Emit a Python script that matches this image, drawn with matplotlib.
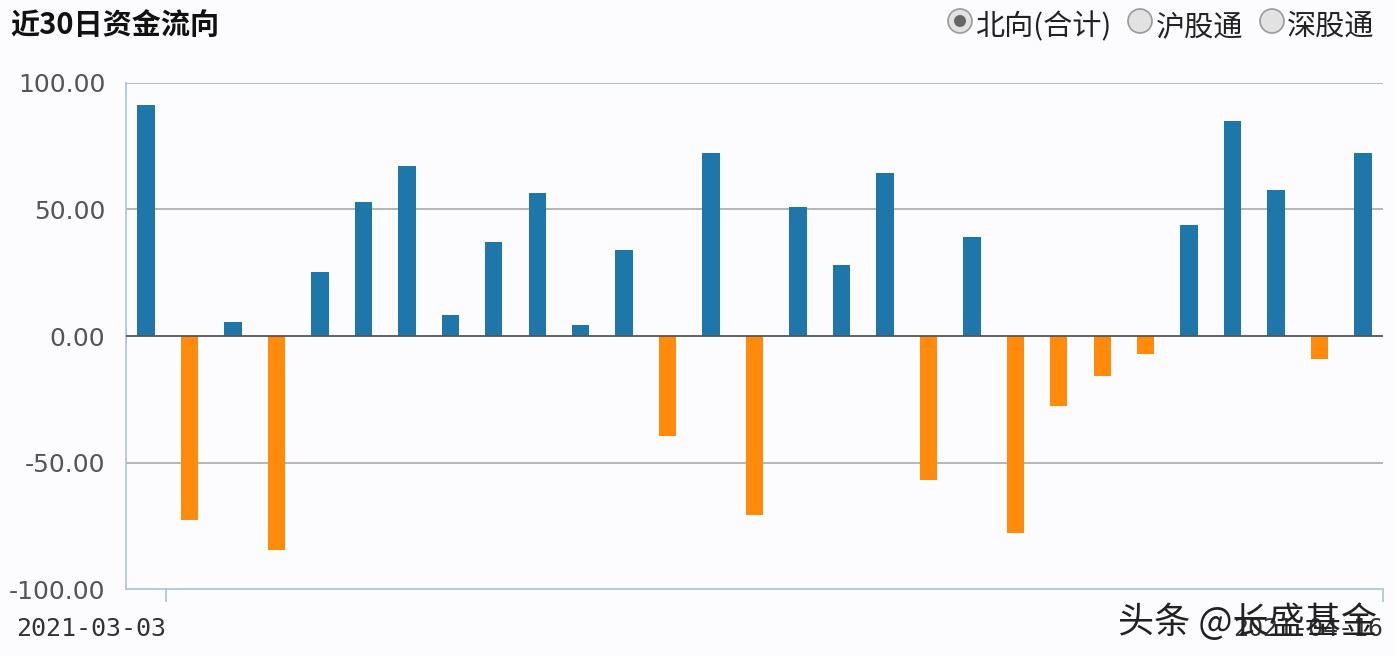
import matplotlib.pyplot as plt
import matplotlib.transforms as mtransforms
from matplotlib.patches import Circle

plt.rcParams['font.family'] = ['Noto Sans CJK SC', 'DejaVu Sans']

# net northbound flow, last 30 trading days (bn)
flows = [91.3, -72.8, 5.5, -84.6, 25.2, 52.8, 67.3, 8.3, 37.0, 56.7,
         4.3, 33.9, -39.4, 72.4, -70.9, 50.8, 28.0, 64.6, -57.1, 39.0,
         -78.0, -27.6, -15.7, -7.1, 43.7, 85.0, 57.9, -9.0, 72.4]
date_labels = ['2021-03-03', '2021-04-16']
y_ticks = [-100, -50, 0, 50, 100]
legend_items = ['北向(合计)', '沪股通', '深股通']

blue = '#1f77a9'
orange = '#ff8a0c'
bg = '#fcfbfd'

fig = plt.figure(figsize=(13.96, 6.56), dpi=100, facecolor=bg)
ax = fig.add_axes([0.0903, 0.1021, 0.9004, 0.7714], facecolor=bg)

x = list(range(len(flows)))
colors = [blue if v >= 0 else orange for v in flows]
ax.bar(x, flows, width=0.4, color=colors, zorder=3)

ax.set_xlim(-0.46, len(flows) - 1 + 0.46)
ax.set_ylim(-100, 100)

# gridlines
for yv in y_ticks:
    if yv == -100:
        continue
    if yv == 0:
        ax.axhline(yv, color='#555555', lw=1.3, zorder=4)
    elif yv == 100:
        ax.axhline(yv, color='#a9b8c6', lw=1.3, zorder=1)
    else:
        ax.axhline(yv, color='#aaaaaa', lw=1.2, zorder=1)

for s in ['top', 'right']:
    ax.spines[s].set_visible(False)
ax.spines['left'].set_color('#a9c3da')
ax.spines['bottom'].set_color('#a9c3da')
ax.spines['left'].set_linewidth(1.2)
ax.spines['bottom'].set_linewidth(1.2)

ax.set_yticks(y_ticks)
ax.set_yticklabels([f'{v:.2f}' for v in y_ticks], fontsize=18, color='#555555',
                   family='DejaVu Sans')
ax.tick_params(axis='y', length=0, pad=15)

ax.set_xticks([0.46, len(flows) - 1 + 0.46])
ax.set_xticklabels(date_labels, fontsize=18, color='#333333',
                   family='DejaVu Sans Mono')
shift = mtransforms.ScaledTranslation(6 / 100, 0, fig.dpi_scale_trans)
for lbl in ax.get_xticklabels():
    lbl.set_horizontalalignment('right')
    lbl.set_transform(lbl.get_transform() + shift)
ax.tick_params(axis='x', length=9, color='#a9c3da', width=1.2, pad=11)

# title
fig.text(10 / 1396, 1 - 26 / 656, '近30日资金流向', fontsize=21, fontweight='bold',
         color='#111111', va='center', ha='left')

# radio-button legend
over = fig.add_axes([0, 0, 1, 1], facecolor='none')
over.set_xlim(0, 1396)
over.set_ylim(656, 0)
over.axis('off')
cx = [960, 1140, 1272]
tx = [975, 1156, 1287]
for i, name in enumerate(legend_items):
    over.add_patch(Circle((cx[i], 21), 12, facecolor='#e2e2e2',
                          edgecolor='#9a9a9a', lw=1.2))
    if i == 0:
        over.add_patch(Circle((cx[i], 21), 6, facecolor='#666666', lw=0))
    over.text(tx[i], 27, name, fontsize=21, color='#222222',
              va='center', ha='left')

# watermark (overlaps the end date in the original too)
over.text(1118, 622, '头条 @长盛基金', fontsize=26, color='#222222',
          va='center', ha='left')

fig.savefig('out.png', dpi=100, facecolor=bg)
